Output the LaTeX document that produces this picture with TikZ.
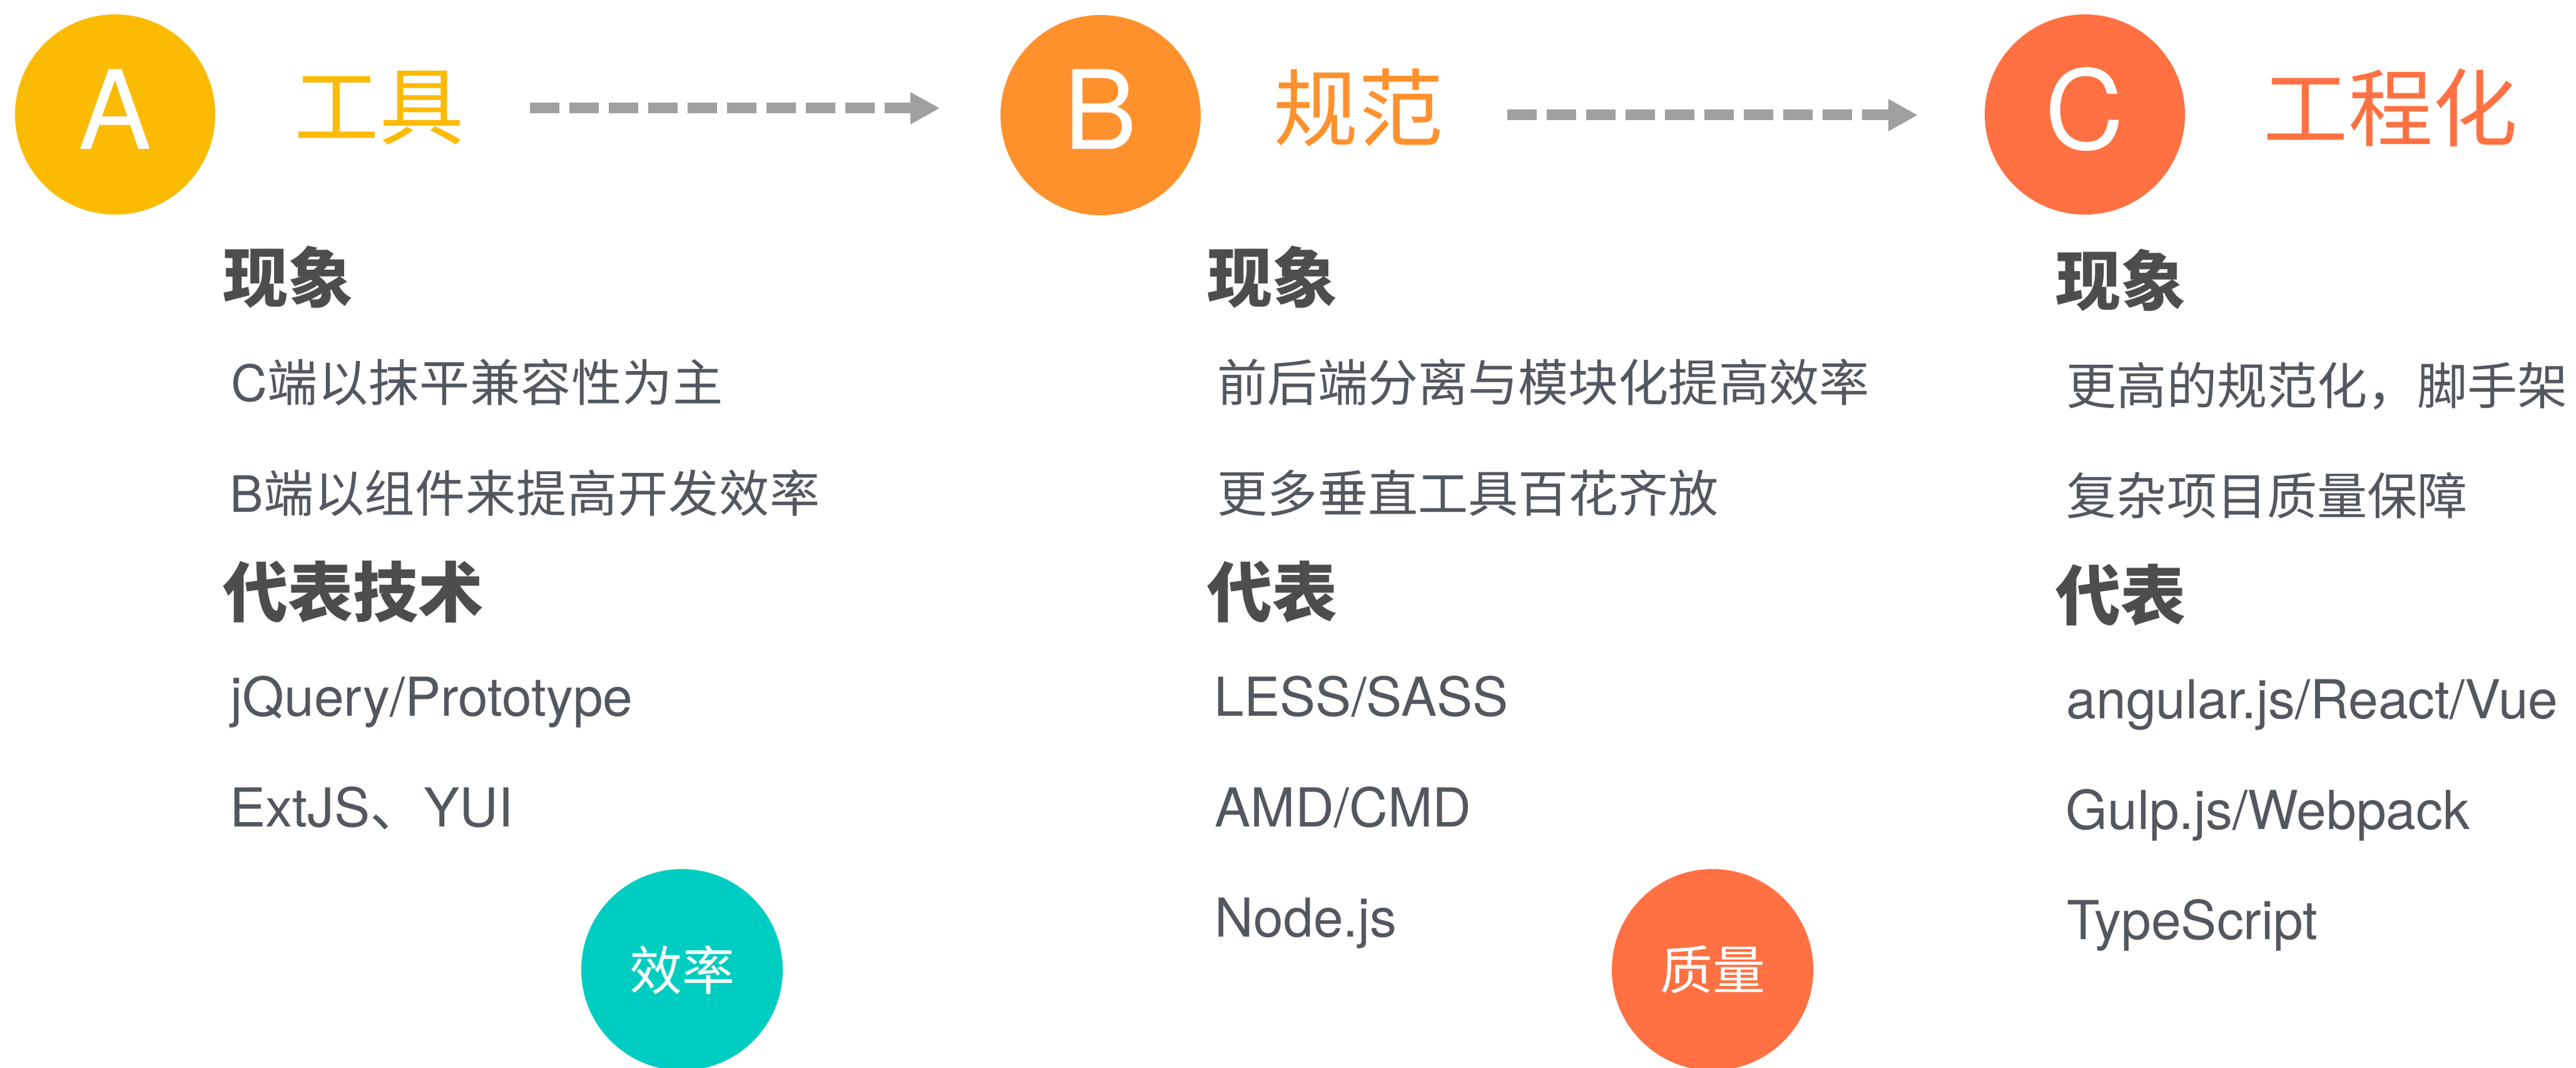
\documentclass[tikz,border=0pt]{standalone}
\usepackage{fontspec}
\setmainfont{TeX Gyre Heros}
\newfontfamily\cjk{Noto Sans CJK SC}
\usetikzlibrary{arrows.meta}

\definecolor{yellowA}{RGB}{252,187,3}
\definecolor{orangeB}{RGB}{255,145,45}
\definecolor{redC}{RGB}{255,113,66}
\definecolor{tealQ}{RGB}{0,205,193}
\definecolor{headgray}{RGB}{77,77,77}
\definecolor{bodygray}{RGB}{83,87,94}
\definecolor{arrowgray}{RGB}{161,160,161}

\tikzset{
  badge/.style={circle, minimum size=3.2cm, inner sep=0pt},
  letter/.style={text=white, inner sep=0pt, font=\fontsize{49.8}{50}\selectfont},
  stagetitle/.style={anchor=west, inner sep=0pt, font=\cjk\fontsize{38.5}{38.5}\selectfont},
  heading/.style={anchor=west, inner sep=0pt, text=headgray, font=\cjk\bfseries\fontsize{29.6}{30}\selectfont},
  bodyline/.style={anchor=west, inner sep=0pt, text=bodygray, font=\cjk\fontsize{22.8}{23}\selectfont},
  tech/.style={anchor=base west, inner sep=0pt, text=bodygray, font=\fontsize{24.4}{25}\selectfont},
  flow/.style={line width=0.17cm, draw=arrowgray, dash pattern=on 0.47cm off 0.16cm,
    -{Triangle[length=0.47cm,width=0.48cm]}},
  tag/.style={circle, minimum size=3.22cm, inner sep=0pt, text=white, font=\cjk\fontsize{23.9}{24}\selectfont},
}

\begin{document}
\begin{tikzpicture}
  \useasboundingbox (0,0) rectangle (41.17,-17.07);

  % stages
  \node[badge, fill=yellowA] (circA) at (1.84,-1.83) {};
  \node[badge, fill=orangeB] (circB) at (17.59,-1.84) {};
  \node[badge, fill=redC] (circC) at (33.32,-1.83) {};
  \node[letter] (letA) at (1.84,-1.75) {A};
  \node[letter] (letB) at (17.59,-1.75) {B};
  \node[letter] (letC) at (33.32,-1.75) {C};
  \node[stagetitle, text=yellowA] (titleA) at (4.70,-1.72) {工具};
  \node[stagetitle, text=orangeB] (titleB) at (20.35,-1.72) {规范};
  \node[stagetitle, text=redC] (titleC) at (36.17,-1.72) {工程化};

  % arrows between stages
  \coordinate (arrA) at (8.47,-1.73);
  \coordinate (arrAend) at (15.02,-1.73);
  \coordinate (arrB) at (24.09,-1.84);
  \coordinate (arrBend) at (30.65,-1.84);
  \draw[flow] (arrA) -- (arrAend);
  \draw[flow] (arrB) -- (arrBend);

  % column A
  \node[heading] (headA1) at (3.56,-4.43) {现象};
  \node[bodyline] (lineA1) at (3.69,-6.11) {{\fontspec{TeX Gyre Heros}C}\addfontfeature{LetterSpace=1}端以抹平兼容性为主};
  \node[bodyline] (lineA2) at (3.67,-7.88) {{\fontspec{TeX Gyre Heros}B}\addfontfeature{LetterSpace=1}端以组件来提高开发效率};
  \node[heading] (headA2) at (3.56,-9.46) {代表技术};
  \node[tech] (techA1) at (3.68,-11.44) {jQuery/Prototype};
  \node[tech] (techA2) at (3.67,-13.21) {ExtJS{\cjk 、}YUI};

  % column B
  \node[heading] (headB1) at (19.29,-4.43) {现象};
  \node[bodyline] (lineB1) at (19.45,-6.11) {前后端分离与模块化提高效率};
  \node[bodyline] (lineB2) at (19.45,-7.88) {更多垂直工具百花齐放};
  \node[heading] (headB2) at (19.29,-9.46) {代表};
  \node[tech] (techB1) at (19.40,-11.44) {LESS/SASS};
  \node[tech] (techB2) at (19.41,-13.21) {AMD/CMD};
  \node[tech] (techB3) at (19.41,-14.97) {Node.js};

  % column C
  \node[heading] (headC1) at (32.85,-4.48) {现象};
  \node[bodyline] (lineC1) at (33.02,-6.17) {更高的规范化，脚手架};
  \node[bodyline] (lineC2) at (33.02,-7.92) {复杂项目质量保障};
  \node[heading] (headC2) at (32.85,-9.51) {代表};
  \node[tech] (techC1) at (33.02,-11.48) {angular.js/React/Vue};
  \node[tech] (techC2) at (33.01,-13.25) {Gulp.js/Webpack};
  \node[tech] (techC3) at (33.03,-15.01) {TypeScript};

  % goals
  \node[tag, fill=tealQ] (goalA) at (10.90,-15.50) {效率};
  \node[tag, fill=redC] (goalB) at (27.37,-15.50) {质量};
\end{tikzpicture}
\end{document}
